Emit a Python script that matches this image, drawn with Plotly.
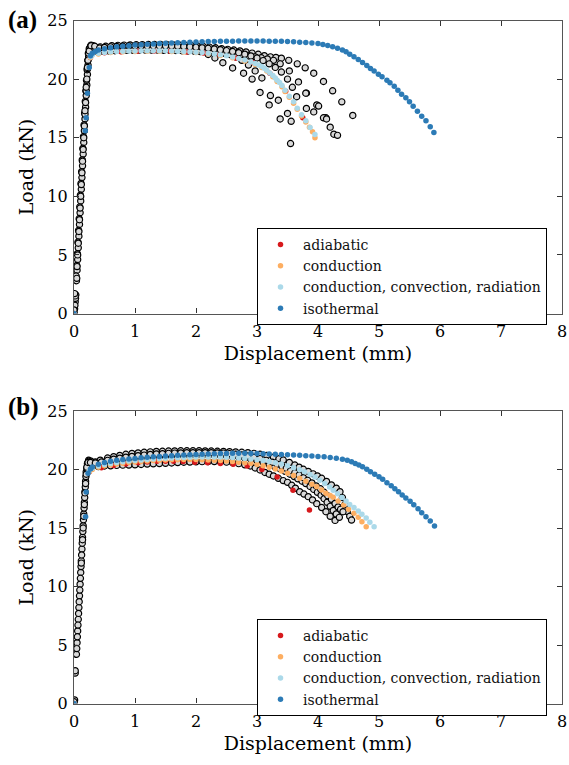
import plotly.graph_objects as go

# ---------------- data (displacement mm, load kN) ----------------
# Panel (a) experimental specimens
exp_a1 = [(0.00,0.0),(0.01,0.4),(0.02,1.0),(0.03,1.6),(0.04,2.8),(0.05,3.7),(0.06,4.6),(0.07,5.6),(0.08,6.6),(0.09,7.6),(0.10,8.6),(0.11,9.6),(0.12,10.6),(0.13,11.6),(0.14,12.6),(0.15,13.6),(0.16,14.6),(0.17,15.6),(0.18,16.6),(0.19,17.6),(0.20,18.6),(0.21,19.5),(0.22,20.4),(0.23,21.2),(0.24,21.9),(0.26,22.6),(0.28,22.9),(0.31,22.85),(0.36,22.7),(0.43,22.75),(0.52,22.8),(0.62,22.85),(0.72,22.88),(0.82,22.9),(0.92,22.92),(1.02,22.93),(1.12,22.94),(1.22,22.95),(1.32,22.95),(1.42,22.95),(1.52,22.95),(1.62,22.94),(1.72,22.92),(1.82,22.9),(1.92,22.87),(2.02,22.83),(2.12,22.78),(2.22,22.73),(2.32,22.67),(2.42,22.6),(2.52,22.54),(2.62,22.48),(2.72,22.4),(2.82,22.32),(2.92,22.22),(3.02,22.12),(3.12,22.0),(3.22,21.9),(3.31,21.85),(3.40,21.78),(3.52,21.6),(3.66,21.3),(3.79,20.96),(3.93,20.5),(4.09,19.8),(4.24,19.0),(4.39,18.06),(4.57,16.9)]
exp_a2 = [(0.00,0.1),(0.015,0.7),(0.025,1.3),(0.035,3.2),(0.045,4.1),(0.055,5.1),(0.065,6.1),(0.075,7.1),(0.085,8.1),(0.095,9.1),(0.105,10.1),(0.115,11.1),(0.125,12.1),(0.135,13.1),(0.145,14.1),(0.155,15.1),(0.165,16.1),(0.175,17.1),(0.185,18.1),(0.195,19.0),(0.205,19.9),(0.215,20.8),(0.225,21.6),(0.235,22.2),(0.25,22.6),(0.27,22.7),(0.30,22.55),(0.35,22.4),(0.40,22.38),(0.47,22.38),(0.57,22.4),(0.67,22.42),(0.77,22.44),(0.87,22.45),(0.97,22.46),(1.07,22.47),(1.17,22.47),(1.27,22.47),(1.37,22.47),(1.47,22.46),(1.57,22.45),(1.67,22.44),(1.77,22.42),(1.87,22.4),(1.97,22.38),(2.07,22.35),(2.17,22.32),(2.27,22.28),(2.37,22.24),(2.47,22.2),(2.57,22.15),(2.67,22.1),(2.77,22.04),(2.87,21.97),(2.97,21.9),(3.07,21.82),(3.17,21.72),(3.27,21.6),(3.38,21.3),(3.53,20.7),(3.68,19.76),(3.81,18.8),(3.98,17.8),(4.13,16.7),(4.20,15.9),(4.26,15.3),(4.32,15.2)]
exp_a3 = [(0.00,0.3),(0.02,1.5),(0.045,3.0),(0.06,5.0),(0.08,7.0),(0.10,9.0),(0.12,11.0),(0.14,13.0),(0.16,15.0),(0.18,17.0),(0.20,19.0),(0.22,20.9),(0.24,22.2),(0.27,22.8),(0.33,22.75),(0.40,22.6),(0.50,22.6),(0.60,22.65),(0.70,22.68),(0.80,22.7),(0.90,22.72),(1.00,22.74),(1.10,22.75),(1.20,22.75),(1.30,22.75),(1.40,22.74),(1.50,22.73),(1.60,22.71),(1.70,22.68),(1.80,22.64),(1.90,22.58),(2.00,22.5),(2.10,22.38),(2.20,22.1),(2.31,21.8),(2.44,21.4),(2.60,20.95),(2.78,20.5),(2.92,20.0),(3.05,18.86),(3.20,17.8),(3.38,16.6),(3.55,14.5)]
exp_a4 = [(0.01,1.7),(0.05,4.0),(0.07,6.0),(0.09,8.0),(0.11,10.0),(0.13,12.0),(0.15,14.0),(0.17,16.0),(0.19,18.0),(0.21,20.0),(0.23,21.6),(0.26,22.6),(0.30,22.7),(0.38,22.5),(0.45,22.5),(0.55,22.55),(0.65,22.6),(0.75,22.62),(0.85,22.64),(0.95,22.66),(1.05,22.67),(1.15,22.68),(1.25,22.68),(1.35,22.68),(1.45,22.67),(1.55,22.66),(1.65,22.64),(1.75,22.62),(1.85,22.6),(1.95,22.57),(2.05,22.53),(2.15,22.48),(2.25,22.42),(2.35,22.34),(2.45,22.24),(2.55,22.1),(2.65,21.9),(2.75,21.6),(2.86,21.2),(2.97,20.7),(3.08,20.1),(3.22,18.6),(3.35,18.2),(3.50,17.07),(3.56,16.4)]
exp_a5 = [(0.18,17.3),(0.20,19.3),(0.22,21.0),(0.25,22.4),(0.28,22.85),(0.34,22.8),(0.42,22.65),(0.50,22.7),(0.60,22.75),(0.70,22.78),(0.80,22.8),(0.90,22.82),(1.00,22.83),(1.10,22.84),(1.20,22.85),(1.30,22.85),(1.40,22.85),(1.50,22.84),(1.60,22.83),(1.70,22.81),(1.80,22.79),(1.90,22.76),(2.00,22.72),(2.10,22.68),(2.20,22.63),(2.30,22.57),(2.40,22.5),(2.50,22.43),(2.60,22.35),(2.70,22.25),(2.80,22.13),(2.90,21.98),(3.00,21.8),(3.10,21.58),(3.20,21.3),(3.30,21.0),(3.40,20.6),(3.50,20.0),(3.58,19.3),(3.65,18.5),(3.80,18.8),(3.81,17.5),(3.93,17.2),(4.01,17.7),(4.09,16.7),(4.14,16.6)]

# Panel (a) simulations
adiabatic_a = [(0.00,0.0),(0.27,21.85),(0.50,22.25),(0.77,22.34),(1.04,22.38),(1.31,22.39),(1.58,22.37),(1.85,22.32),(2.12,22.22),(2.39,22.06),(2.66,21.78),(2.93,21.42),(3.21,20.5),(3.47,18.97),(3.75,16.7)]
conduction_a = [(0.00,0.0),(0.27,21.85),(0.40,22.15),(0.60,22.28),(0.80,22.33),(1.00,22.36),(1.20,22.38),(1.40,22.38),(1.60,22.36),(1.80,22.32),(2.00,22.26),(2.20,22.16),(2.40,22.02),(2.60,21.82),(2.80,21.55),(2.97,21.25),(3.08,21.0),(3.16,20.7),(3.26,20.2),(3.33,19.8),(3.41,19.35),(3.46,18.95),(3.53,18.45),(3.60,17.95),(3.66,17.42),(3.73,16.85),(3.80,16.35),(3.86,15.9),(3.91,15.5),(3.95,14.99)]
ccr_a = [(0.00,0.0),(0.27,21.9),(0.30,22.05),(0.40,22.2),(0.50,22.27),(0.60,22.32),(0.70,22.35),(0.80,22.37),(0.90,22.39),(1.00,22.4),(1.10,22.41),(1.20,22.42),(1.30,22.42),(1.40,22.42),(1.50,22.41),(1.60,22.4),(1.70,22.38),(1.80,22.36),(1.90,22.33),(2.00,22.3),(2.10,22.26),(2.20,22.21),(2.30,22.15),(2.40,22.08),(2.50,21.99),(2.60,21.88),(2.70,21.76),(2.80,21.62),(2.90,21.45),(2.97,21.33),(3.03,21.2),(3.08,21.08),(3.12,20.93),(3.16,20.76),(3.21,20.53),(3.26,20.3),(3.30,20.1),(3.33,19.9),(3.37,19.7),(3.41,19.45),(3.46,19.05),(3.53,18.54),(3.60,18.06),(3.66,17.52),(3.73,16.95),(3.80,16.44),(3.87,15.87),(3.95,15.28)]
isothermal_a = [(0.00,0.0),(0.185,15.6),(0.20,16.7),(0.22,18.8),(0.25,21.0),(0.27,22.0),(0.30,22.2),(0.35,22.35),(0.40,22.48),(0.50,22.6),(0.60,22.68),(0.70,22.75),(0.80,22.8),(0.90,22.85),(1.00,22.9),(1.10,22.94),(1.20,22.97),(1.30,23.0),(1.40,23.03),(1.50,23.06),(1.60,23.08),(1.70,23.1),(1.80,23.12),(1.90,23.14),(2.00,23.16),(2.10,23.18),(2.20,23.2),(2.30,23.21),(2.40,23.22),(2.50,23.23),(2.60,23.24),(2.70,23.25),(2.80,23.26),(2.90,23.26),(3.00,23.26),(3.10,23.25),(3.20,23.24),(3.30,23.23),(3.40,23.22),(3.50,23.2),(3.60,23.18),(3.70,23.15),(3.80,23.12),(3.90,23.08),(4.00,23.03),(4.08,22.96),(4.16,22.87),(4.24,22.76),(4.32,22.63),(4.40,22.48),(4.46,22.33),(4.52,22.13),(4.59,21.9),(4.66,21.67),(4.73,21.41),(4.80,21.16),(4.86,20.9),(4.92,20.7),(4.99,20.42),(5.05,20.19),(5.13,19.9),(5.18,19.68),(5.25,19.4),(5.31,19.05),(5.37,18.71),(5.44,18.4),(5.50,18.06),(5.56,17.69),(5.63,17.26),(5.70,16.84),(5.77,16.44),(5.84,15.93),(5.90,15.45)]

# Panel (b) experimental specimens
exp_b1 = [(0.00,0.0),(0.01,0.3),(0.02,2.6),(0.04,4.2),(0.05,5.2),(0.06,6.2),(0.07,7.2),(0.08,8.2),(0.09,9.2),(0.10,10.2),(0.11,11.2),(0.12,12.2),(0.13,13.2),(0.14,14.2),(0.15,15.2),(0.16,16.2),(0.17,17.2),(0.18,18.1),(0.19,19.0),(0.20,19.8),(0.22,20.5),(0.24,20.8),(0.28,20.7),(0.35,20.65),(0.43,20.8),(0.55,20.98),(0.65,21.1),(0.75,21.2),(0.85,21.3),(0.95,21.37),(1.05,21.42),(1.15,21.47),(1.25,21.51),(1.35,21.54),(1.45,21.56),(1.55,21.58),(1.65,21.59),(1.75,21.6),(1.85,21.6),(1.95,21.6),(2.05,21.6),(2.15,21.59),(2.25,21.58),(2.35,21.56),(2.45,21.54),(2.55,21.52),(2.65,21.5),(2.75,21.47),(2.85,21.44),(2.95,21.38),(3.05,21.3),(3.16,21.2),(3.27,21.05),(3.36,20.92),(3.43,20.81),(3.53,20.6),(3.62,20.38),(3.69,20.2),(3.76,20.02),(3.84,19.83),(3.92,19.63),(3.99,19.45),(4.06,19.25),(4.14,18.98),(4.22,18.68),(4.30,18.4),(4.36,18.1),(4.40,17.6),(4.44,17.0),(4.48,16.4),(4.52,16.0),(4.55,15.68)]
exp_b2 = [(0.00,0.15),(0.02,2.8),(0.045,4.7),(0.055,5.7),(0.065,6.7),(0.075,7.7),(0.085,8.7),(0.095,9.7),(0.105,10.7),(0.115,11.7),(0.125,12.7),(0.135,13.7),(0.145,14.7),(0.155,15.7),(0.165,16.7),(0.175,17.6),(0.185,18.5),(0.195,19.4),(0.21,20.1),(0.23,20.6),(0.26,20.5),(0.30,20.25),(0.40,20.25),(0.50,20.3),(0.60,20.32),(0.70,20.35),(0.80,20.37),(0.90,20.38),(1.00,20.4),(1.10,20.43),(1.20,20.46),(1.30,20.49),(1.40,20.51),(1.50,20.53),(1.60,20.56),(1.70,20.59),(1.80,20.62),(1.90,20.64),(2.00,20.66),(2.10,20.67),(2.20,20.68),(2.30,20.68),(2.40,20.66),(2.50,20.63),(2.60,20.58),(2.70,20.5),(2.80,20.4),(2.89,20.3),(2.97,20.13),(3.05,19.96),(3.13,19.75),(3.20,19.6),(3.27,19.45),(3.35,19.25),(3.43,19.05),(3.50,18.9),(3.57,18.65),(3.63,18.4),(3.70,18.1),(3.77,17.9),(3.84,17.68),(3.91,17.4),(3.98,17.08),(4.06,16.75),(4.13,16.39),(4.20,16.0),(4.28,15.65)]
exp_b3 = [(0.15,15.0),(0.17,17.0),(0.19,18.8),(0.21,20.2),(0.24,20.7),(0.30,20.45),(0.40,20.5),(0.50,20.6),(0.60,20.7),(0.70,20.78),(0.80,20.85),(0.90,20.91),(1.00,20.96),(1.10,21.0),(1.20,21.04),(1.30,21.08),(1.40,21.11),(1.50,21.14),(1.60,21.16),(1.70,21.18),(1.80,21.2),(1.90,21.21),(2.00,21.22),(2.10,21.22),(2.20,21.22),(2.30,21.21),(2.40,21.19),(2.50,21.16),(2.60,21.12),(2.70,21.06),(2.80,20.98),(2.90,20.88),(3.00,20.75),(3.10,20.6),(3.20,20.42),(3.29,20.25),(3.38,20.05),(3.46,19.85),(3.54,19.6),(3.61,19.4),(3.67,19.2),(3.74,19.0),(3.80,18.8),(3.87,18.55),(3.93,18.3),(3.99,18.05),(4.05,17.8),(4.10,17.5),(4.15,17.2),(4.20,16.85),(4.25,16.5),(4.30,16.2),(4.35,15.91)]
exp_b4 = [(0.12,12.0),(0.14,14.0),(0.16,16.0),(0.18,18.0),(0.20,19.6),(0.23,20.6),(0.27,20.6),(0.35,20.55),(0.45,20.65),(0.55,20.78),(0.65,20.88),(0.75,20.97),(0.85,21.05),(0.95,21.12),(1.05,21.18),(1.15,21.23),(1.25,21.28),(1.35,21.32),(1.45,21.35),(1.55,21.38),(1.65,21.4),(1.75,21.42),(1.85,21.43),(1.95,21.44),(2.05,21.44),(2.15,21.44),(2.25,21.43),(2.35,21.42),(2.45,21.4),(2.55,21.36),(2.65,21.31),(2.75,21.24),(2.85,21.15),(2.95,21.05),(3.05,20.93),(3.15,20.78),(3.25,20.62),(3.33,20.45),(3.41,20.28),(3.48,20.1),(3.55,19.9),(3.62,19.72),(3.69,19.52),(3.76,19.3),(3.83,19.08),(3.90,18.85),(3.97,18.6),(4.04,18.35),(4.10,18.05),(4.16,17.75),(4.22,17.45),(4.28,17.1),(4.33,16.8),(4.37,16.6),(4.41,16.39)]

# Panel (b) simulations
adiabatic_b = [(0.00,0.0),(0.25,19.8),(0.45,20.15),(0.65,20.35),(0.85,20.48),(1.05,20.58),(1.20,20.65),(1.36,20.7),(1.50,20.71),(1.63,20.7),(1.79,20.68),(1.98,20.63),(2.19,20.58),(2.40,20.52),(2.61,20.44),(2.84,20.3),(3.08,20.0),(3.33,19.35),(3.59,18.22),(3.86,16.54)]
conduction_b = [(0.00,0.0),(0.25,19.8),(0.30,20.0),(0.40,20.2),(0.50,20.32),(0.60,20.41),(0.70,20.48),(0.80,20.54),(0.90,20.6),(1.00,20.65),(1.10,20.69),(1.20,20.73),(1.30,20.76),(1.40,20.79),(1.50,20.81),(1.60,20.83),(1.70,20.84),(1.80,20.85),(1.90,20.85),(2.00,20.85),(2.10,20.84),(2.20,20.82),(2.30,20.8),(2.40,20.77),(2.50,20.73),(2.60,20.68),(2.70,20.63),(2.80,20.58),(2.90,20.53),(3.00,20.42),(3.10,20.32),(3.20,20.2),(3.30,20.05),(3.40,19.88),(3.50,19.68),(3.60,19.48),(3.70,19.25),(3.80,18.99),(3.90,18.74),(3.98,18.53),(4.06,18.25),(4.13,17.98),(4.20,17.78),(4.25,17.62),(4.33,17.3),(4.42,16.97),(4.50,16.6),(4.59,16.26),(4.66,15.91),(4.72,15.54),(4.79,15.11)]
ccr_b = [(0.00,0.0),(0.25,19.9),(0.30,20.1),(0.40,20.3),(0.50,20.42),(0.60,20.52),(0.70,20.6),(0.80,20.66),(0.90,20.72),(1.00,20.77),(1.10,20.82),(1.20,20.86),(1.30,20.9),(1.40,20.93),(1.50,20.96),(1.60,20.99),(1.70,21.01),(1.80,21.03),(1.90,21.05),(2.00,21.06),(2.10,21.07),(2.20,21.07),(2.30,21.07),(2.40,21.06),(2.50,21.04),(2.60,21.02),(2.70,20.99),(2.80,20.95),(2.90,20.9),(3.00,20.84),(3.10,20.77),(3.20,20.68),(3.30,20.58),(3.40,20.46),(3.50,20.32),(3.60,20.16),(3.70,19.98),(3.78,19.8),(3.87,19.58),(3.95,19.35),(4.03,19.08),(4.11,18.8),(4.19,18.5),(4.25,18.22),(4.32,17.92),(4.39,17.6),(4.46,17.3),(4.52,17.0),(4.59,16.75),(4.66,16.45),(4.72,16.18),(4.79,15.86),(4.85,15.49),(4.92,15.11)]
isothermal_b = [(0.00,0.0),(0.19,15.97),(0.20,18.08),(0.23,19.67),(0.27,20.05),(0.30,20.22),(0.40,20.45),(0.50,20.6),(0.60,20.7),(0.70,20.78),(0.80,20.85),(0.90,20.9),(1.00,20.95),(1.10,21.0),(1.20,21.04),(1.30,21.08),(1.40,21.12),(1.50,21.15),(1.60,21.18),(1.70,21.21),(1.80,21.24),(1.90,21.27),(2.00,21.29),(2.10,21.31),(2.20,21.33),(2.30,21.35),(2.40,21.36),(2.50,21.37),(2.60,21.38),(2.70,21.38),(2.80,21.38),(2.90,21.37),(3.00,21.36),(3.10,21.35),(3.20,21.33),(3.30,21.31),(3.40,21.29),(3.50,21.27),(3.60,21.24),(3.70,21.21),(3.80,21.18),(3.90,21.15),(4.00,21.12),(4.10,21.08),(4.20,21.03),(4.30,20.96),(4.40,20.88),(4.48,20.78),(4.55,20.66),(4.61,20.52),(4.67,20.38),(4.73,20.24),(4.80,20.02),(4.86,19.81),(4.93,19.59),(5.00,19.38),(5.06,19.16),(5.13,18.87),(5.20,18.62),(5.26,18.36),(5.32,18.1),(5.38,17.82),(5.44,17.56),(5.51,17.28),(5.57,16.99),(5.64,16.65),(5.70,16.3),(5.77,15.97),(5.84,15.6),(5.91,15.17)]

series_names = ["adiabatic", "conduction", "conduction, convection, radiation", "isothermal"]
series_colors = ["#d7191c", "#fdae61", "#abd9e9", "#2c7bb6"]
x_ticks = [0, 1, 2, 3, 4, 5, 6, 7, 8]
y_ticks = [0, 5, 10, 15, 20, 25]
panel_labels = ["(a)", "(b)"]

# ---------------- figure ----------------
W, H = 569, 765
FONT = "DejaVu Serif"
fig = go.Figure()

def px_dom_x(a, b):
    return [a / W, b / W]

def px_dom_y(top, bottom):
    return [1 - bottom / H, 1 - top / H]

panels = [
    dict(exp=[exp_a1, exp_a2, exp_a3, exp_a4, exp_a5],
         sims=[adiabatic_a, conduction_a, ccr_a, isothermal_a],
         xa="x", ya="y", legend="legend", top=20.5, bottom=313.5),
    dict(exp=[exp_b1, exp_b2, exp_b3, exp_b4],
         sims=[adiabatic_b, conduction_b, ccr_b, isothermal_b],
         xa="x2", ya="y2", legend="legend2", top=411.0, bottom=703.5),
]

for p in panels:
    for spec in p["exp"]:
        xs, ys = zip(*spec)
        fig.add_trace(go.Scatter(
            x=xs, y=ys, mode="markers", xaxis=p["xa"], yaxis=p["ya"],
            marker=dict(symbol="circle", size=6.2, color="#d9d9d9",
                        line=dict(color="black", width=1.2)),
            showlegend=False, hoverinfo="skip"))
    for name, color, sim in zip(series_names, series_colors, p["sims"]):
        xs, ys = zip(*sim)
        fig.add_trace(go.Scatter(
            x=xs, y=ys, mode="markers", name=name, xaxis=p["xa"], yaxis=p["ya"],
            legend=p["legend"],
            marker=dict(symbol="circle", size=5.5, color=color, line=dict(width=0))))

axis_common = dict(
    showline=True, linecolor="#555555", linewidth=1.3, mirror="ticks",
    ticks="inside", ticklen=5, tickwidth=1.3, tickcolor="#333333",
    showgrid=False, zeroline=False, automargin=False,
    tickfont=dict(family=FONT, size=16, color="black"),
)

layout = dict(
    width=W, height=H, margin=dict(l=0, r=0, t=0, b=0, autoexpand=False),
    plot_bgcolor="white", paper_bgcolor="white",
    font=dict(family=FONT, color="black"),
)

for i, p in enumerate(panels):
    sfx = "" if i == 0 else "2"
    layout["xaxis" + sfx] = dict(
        axis_common, domain=px_dom_x(74, 562), range=[0, 8],
        tickvals=x_ticks, ticktext=[str(t) for t in x_ticks],
        anchor="y" + sfx, ticklabelstandoff=3,
        title=dict(text="Displacement (mm)", font=dict(family=FONT, size=19), standoff=6))
    layout["yaxis" + sfx] = dict(
        axis_common, domain=px_dom_y(p["top"], p["bottom"]), range=[0, 25],
        tickvals=y_ticks, ticktext=[str(t) for t in y_ticks],
        anchor="x" + sfx, ticklabelstandoff=2,
        title=dict(text="Load (kN)", font=dict(family=FONT, size=19), standoff=8))

legend_common = dict(
    xanchor="left", yanchor="top", bgcolor="white",
    bordercolor="black", borderwidth=1,
    font=dict(family=FONT, size=14, color="#111111"),
    tracegroupgap=0, itemwidth=35,
)
layout["legend"] = dict(legend_common, x=257 / W, y=1 - 228 / H)
layout["legend2"] = dict(legend_common, x=257 / W, y=1 - 619 / H)

fig.update_layout(**layout)

for lab, ytop in zip(panel_labels, [4, 391]):
    fig.add_annotation(
        text="<b>" + lab + "</b>", xref="paper", yref="paper",
        x=6 / W, y=1 - ytop / H, xanchor="left", yanchor="top",
        showarrow=False, font=dict(family="Liberation Serif", size=25, color="black"))

fig.write_html("out.html")
